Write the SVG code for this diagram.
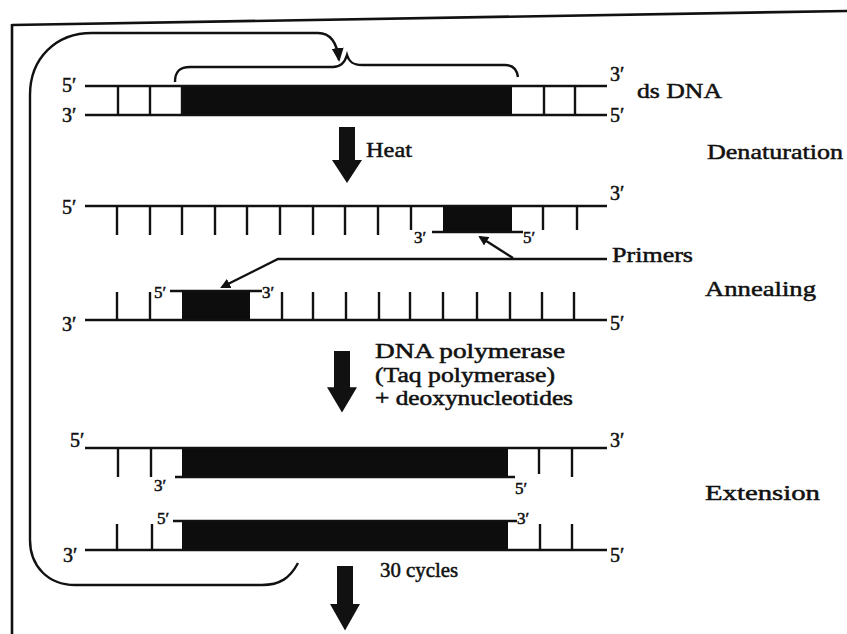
<svg xmlns="http://www.w3.org/2000/svg" width="847" height="634" viewBox="0 0 847 634">
<defs>
<style>
.s{stroke:#111;stroke-width:2.6;fill:none}
.r{stroke:#111;stroke-width:2.4}
.b{fill:#0d0d0d}
.t{font-family:"Liberation Serif","Times New Roman",serif;fill:#111;stroke:#111;stroke-width:0.5}
.p{font-size:20px}
.q{font-size:17px}
.l{font-size:22px}
.c{stroke:#111;stroke-width:2.4;fill:none}
</style>
<marker id="ah" markerWidth="10" markerHeight="10" refX="8" refY="5" orient="auto" markerUnits="userSpaceOnUse">
<path d="M0,0 L10,5 L0,10 Z" fill="#111"/>
</marker>
<marker id="ah2" markerWidth="14" markerHeight="12" refX="12" refY="6" orient="auto" markerUnits="userSpaceOnUse">
<path d="M0,0 L14,6 L0,12 Z" fill="#111"/>
</marker>
<path id="blk" d="M-8,0 L8,0 L8,33 L15,33 L0,56 L-15,33 L-8,33 Z" fill="#111"/>
</defs>
<rect width="847" height="634" fill="#fff"/>

<!-- frame -->
<g id="frame">
<line x1="12" y1="25" x2="847" y2="11" stroke="#111" stroke-width="2.6"/>
<line x1="12" y1="24" x2="12" y2="634" stroke="#111" stroke-width="2.6"/>
</g>

<!-- connectors -->
<g id="connectors">
<path class="c" d="M298,563 C290,578 280,585 262,585 L75,585 C48,585 30,566 30,540 L30,95 C30,58 56,33 92,33 L318,33 C330,33 337,42 339,60" marker-end="url(#ah2)"/>
<path class="c" d="M607,259 L278,259 L222,287" marker-end="url(#ah)"/>
<path class="c" d="M513,258 L480,237" marker-end="url(#ah)"/>
<path class="c" d="M175,82 C175,71 180,67 190,67 L333,67 C341,67 345,62 347,55 C349,62 353,65 362,65 L505,65 C513,65 517,70 518,77"/>
</g>

<!-- step arrows -->
<g id="arrow-heat"><use href="#blk" transform="translate(347,127)"/><text class="t l" x="366" y="157" textLength="46" lengthAdjust="spacingAndGlyphs">Heat</text></g>
<g id="arrow-pol"><use href="#blk" transform="translate(342,351) scale(1,1.1)"/>
<text class="t p" x="375" y="358" textLength="190" lengthAdjust="spacingAndGlyphs">DNA polymerase</text>
<text class="t p" x="375" y="382" textLength="180" lengthAdjust="spacingAndGlyphs">(Taq polymerase)</text>
<text class="t p" x="375" y="405" textLength="198" lengthAdjust="spacingAndGlyphs">+ deoxynucleotides</text>
</g>
<g id="arrow-cycles"><use href="#blk" transform="translate(345,566) scale(1,1.15)"/><text class="t p" x="380" y="577" textLength="78" lengthAdjust="spacingAndGlyphs">30 cycles</text></g>

<!-- ds DNA -->
<g id="dsDNA">
<rect class="b" x="182" y="86" width="330" height="29"/>
<line class="s" x1="85" y1="86" x2="607" y2="86"/>
<line class="s" x1="85" y1="115" x2="607" y2="115"/>
<line class="r" x1="118" y1="86" x2="118" y2="115"/>
<line class="r" x1="150" y1="86" x2="150" y2="115"/>
<line class="r" x1="182" y1="86" x2="182" y2="115"/>
<line class="r" x1="544" y1="86" x2="544" y2="115"/>
<line class="r" x1="575" y1="86" x2="575" y2="115"/>
<text class="t p" x="62" y="92">5′</text>
<text class="t p" x="62" y="122">3′</text>
<text class="t p" x="610" y="81">3′</text>
<text class="t p" x="610" y="122">5′</text>
<text class="t l" x="637" y="98" textLength="85" lengthAdjust="spacingAndGlyphs">ds DNA</text>
</g>

<!-- denatured top strand with primer -->
<g id="strand-top">
<rect class="b" x="443" y="206" width="69" height="26"/>
<line class="s" x1="85" y1="206" x2="607" y2="206"/>
<line class="s" x1="432" y1="232" x2="523" y2="232"/>
<line class="r" x1="117" y1="206" x2="117" y2="235"/>
<line class="r" x1="150" y1="206" x2="150" y2="235"/>
<line class="r" x1="182" y1="206" x2="182" y2="235"/>
<line class="r" x1="215" y1="206" x2="215" y2="235"/>
<line class="r" x1="247" y1="206" x2="247" y2="235"/>
<line class="r" x1="280" y1="206" x2="280" y2="235"/>
<line class="r" x1="313" y1="206" x2="313" y2="235"/>
<line class="r" x1="345" y1="206" x2="345" y2="235"/>
<line class="r" x1="378" y1="206" x2="378" y2="235"/>
<line class="r" x1="411" y1="206" x2="411" y2="230"/>
<line class="r" x1="543" y1="206" x2="543" y2="230"/>
<line class="r" x1="577" y1="206" x2="577" y2="230"/>
<text class="t p" x="62" y="214">5′</text>
<text class="t p" x="610" y="200">3′</text>
<text class="t q" x="414" y="243">3′</text>
<text class="t q" x="523" y="243">5′</text>
</g>

<!-- annealing bottom strand with primer -->
<g id="strand-bottom">
<rect class="b" x="182" y="291" width="68" height="29"/>
<line class="s" x1="170" y1="291" x2="262" y2="291"/>
<line class="s" x1="85" y1="320" x2="607" y2="320"/>
<line class="r" x1="117" y1="292" x2="117" y2="320"/>
<line class="r" x1="150" y1="292" x2="150" y2="320"/>
<line class="r" x1="282" y1="292" x2="282" y2="320"/>
<line class="r" x1="313" y1="292" x2="313" y2="320"/>
<line class="r" x1="346" y1="292" x2="346" y2="320"/>
<line class="r" x1="379" y1="292" x2="379" y2="320"/>
<line class="r" x1="410" y1="292" x2="410" y2="320"/>
<line class="r" x1="443" y1="292" x2="443" y2="320"/>
<line class="r" x1="477" y1="292" x2="477" y2="320"/>
<line class="r" x1="510" y1="292" x2="510" y2="320"/>
<line class="r" x1="542" y1="292" x2="542" y2="320"/>
<line class="r" x1="574" y1="292" x2="574" y2="320"/>
<text class="t q" x="154" y="298">5′</text>
<text class="t q" x="262" y="298">3′</text>
<text class="t p" x="62" y="331">3′</text>
<text class="t p" x="610" y="330">5′</text>
</g>

<!-- extension products -->
<g id="ext-top">
<rect class="b" x="182" y="448" width="326" height="29"/>
<line class="s" x1="85" y1="448" x2="607" y2="448"/>
<line class="s" x1="175" y1="477" x2="515" y2="477"/>
<line class="r" x1="118" y1="448" x2="118" y2="477"/>
<line class="r" x1="151" y1="448" x2="151" y2="477"/>
<line class="r" x1="539" y1="448" x2="539" y2="474"/>
<line class="r" x1="572" y1="448" x2="572" y2="477"/>
<text class="t p" x="70" y="447">5′</text>
<text class="t p" x="610" y="447">3′</text>
<text class="t q" x="154" y="491">3′</text>
<text class="t q" x="515" y="494">5′</text>
</g>
<g id="ext-bottom">
<rect class="b" x="182" y="521" width="326" height="29"/>
<line class="s" x1="173" y1="521" x2="517" y2="521"/>
<line class="s" x1="85" y1="550" x2="607" y2="550"/>
<line class="r" x1="117" y1="524" x2="117" y2="550"/>
<line class="r" x1="152" y1="524" x2="152" y2="550"/>
<line class="r" x1="540" y1="524" x2="540" y2="550"/>
<line class="r" x1="572" y1="524" x2="572" y2="550"/>
<text class="t q" x="157" y="524">5′</text>
<text class="t q" x="517" y="524">3′</text>
<text class="t p" x="63" y="562">3′</text>
<text class="t p" x="610" y="562">5′</text>
</g>

<!-- step labels -->
<g id="labels">
<text class="t l" x="707" y="159" textLength="136" lengthAdjust="spacingAndGlyphs">Denaturation</text>
<text class="t l" x="612" y="262" textLength="81" lengthAdjust="spacingAndGlyphs">Primers</text>
<text class="t l" x="705" y="296" textLength="111" lengthAdjust="spacingAndGlyphs">Annealing</text>
<text class="t l" x="705" y="500" textLength="115" lengthAdjust="spacingAndGlyphs">Extension</text>
</g>
</svg>
